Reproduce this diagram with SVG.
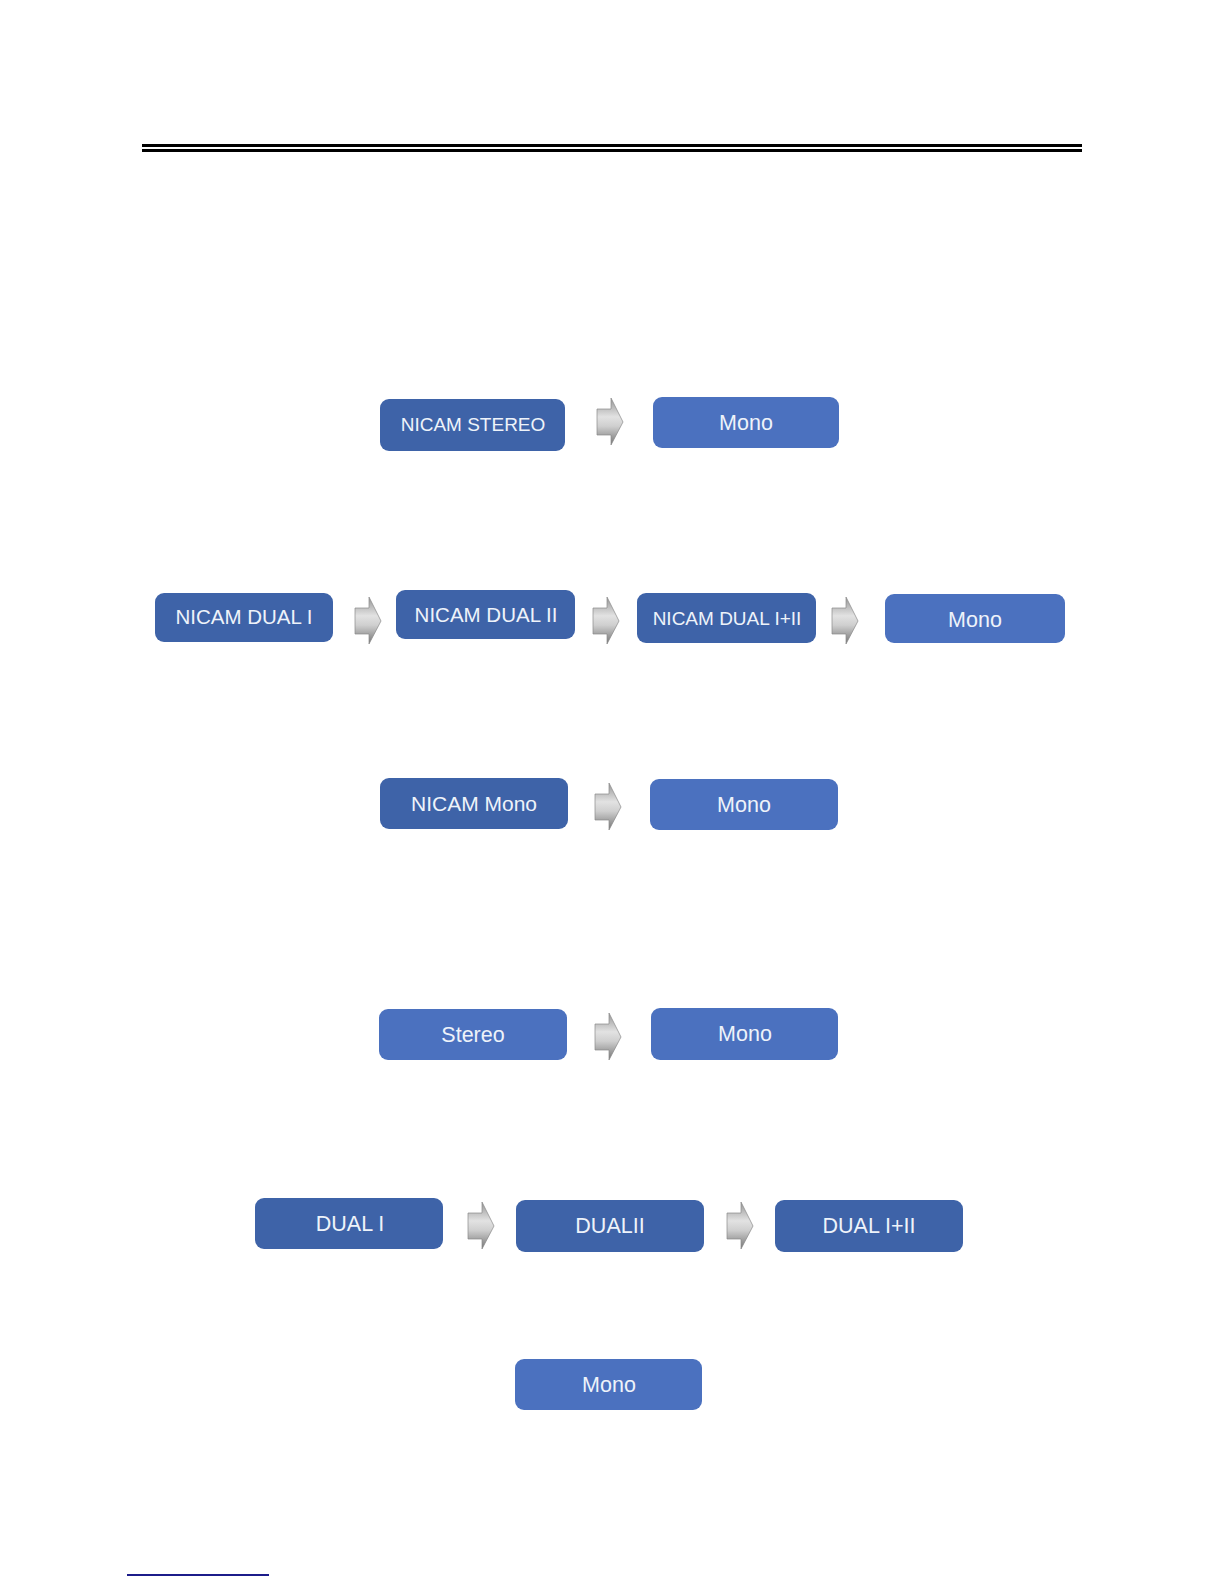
<svg xmlns="http://www.w3.org/2000/svg" width="1224" height="1584" viewBox="0 0 1224 1584">
<defs>
<linearGradient id="ag" x1="0" y1="0" x2="0" y2="1">
<stop offset="0" stop-color="#959595"/>
<stop offset="0.4" stop-color="#e2e2e2"/>
<stop offset="0.6" stop-color="#cfcfcf"/>
<stop offset="1" stop-color="#747474"/>
</linearGradient>
<path id="arr" d="M0,11 H14 V0 L26,24 L14,47 V37 H0 Z" fill="url(#ag)" stroke="#8a8a8a" stroke-width="0.7"/>
</defs>
<style>
.dk{fill:#3e63a8}
.lt{fill:#4b71bf}
text{font-family:"Liberation Sans",Arial,sans-serif;fill:#eef3fa;text-anchor:middle}
</style>
<rect width="1224" height="1584" fill="#ffffff"/>
<rect x="142" y="144" width="940" height="3" fill="#000"/>
<rect x="142" y="149" width="940" height="3" fill="#000"/>
<rect x="127" y="1574" width="142" height="2" fill="#1c1c8a"/>

<g id="connectors">
<use href="#arr" x="597" y="398"/>
<use href="#arr" x="355" y="597"/>
<use href="#arr" x="593" y="597"/>
<use href="#arr" x="832" y="597"/>
<use href="#arr" x="595" y="783"/>
<use href="#arr" x="595" y="1013"/>
<use href="#arr" x="468" y="1202"/>
<use href="#arr" x="727" y="1202"/>
</g>

<g id="n1"><rect class="dk" x="380" y="399" width="185" height="52" rx="9"/><text x="473" y="431" font-size="19">NICAM STEREO</text></g>
<g id="n2"><rect class="lt" x="653" y="397" width="186" height="51" rx="9"/><text x="746" y="430" font-size="21.5">Mono</text></g>

<g id="n3"><rect class="dk" x="155" y="593" width="178" height="49" rx="9"/><text x="244" y="624" font-size="20.5">NICAM DUAL I</text></g>
<g id="n4"><rect class="dk" x="396" y="590" width="179" height="49" rx="9"/><text x="486" y="622" font-size="20.5">NICAM DUAL II</text></g>
<g id="n5"><rect class="dk" x="637" y="593" width="179" height="50" rx="9"/><text x="727" y="625" font-size="19">NICAM DUAL I+II</text></g>
<g id="n6"><rect class="lt" x="885" y="594" width="180" height="49" rx="9"/><text x="975" y="627" font-size="21.5">Mono</text></g>

<g id="n7"><rect class="dk" x="380" y="778" width="188" height="51" rx="9"/><text x="474" y="811" font-size="21">NICAM Mono</text></g>
<g id="n8"><rect class="lt" x="650" y="779" width="188" height="51" rx="9"/><text x="744" y="812" font-size="21.5">Mono</text></g>

<g id="n9"><rect class="lt" x="379" y="1009" width="188" height="51" rx="9"/><text x="473" y="1042" font-size="21.5">Stereo</text></g>
<g id="n10"><rect class="lt" x="651" y="1008" width="187" height="52" rx="9"/><text x="745" y="1041" font-size="21.5">Mono</text></g>

<g id="n11"><rect class="dk" x="255" y="1198" width="188" height="51" rx="9"/><text x="350" y="1231" font-size="21.5">DUAL I</text></g>
<g id="n12"><rect class="dk" x="516" y="1200" width="188" height="52" rx="9"/><text x="610" y="1233" font-size="21.5">DUALII</text></g>
<g id="n13"><rect class="dk" x="775" y="1200" width="188" height="52" rx="9"/><text x="869" y="1233" font-size="21.5">DUAL I+II</text></g>

<g id="n14"><rect class="lt" x="515" y="1359" width="187" height="51" rx="9"/><text x="609" y="1392" font-size="21.5">Mono</text></g>
</svg>
